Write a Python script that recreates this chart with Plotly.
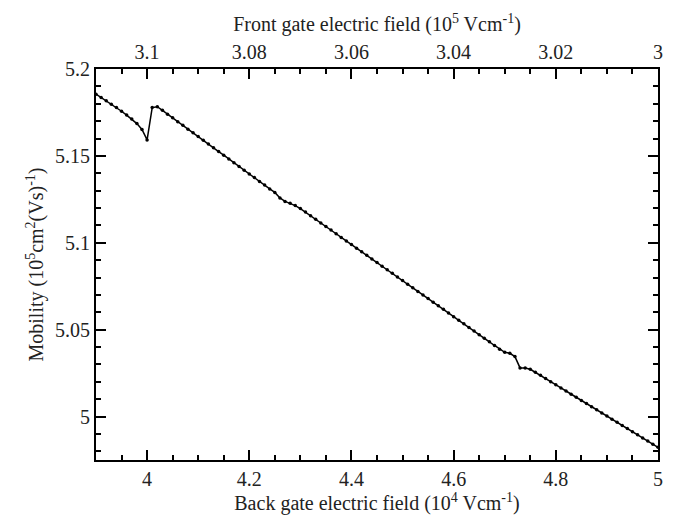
import plotly.graph_objects as go

# Back gate field (10^4 V/cm) and mobility (10^5 cm^2/Vs)
back_field = [
    3.90, 3.91, 3.92, 3.93, 3.94, 3.95, 3.96, 3.97, 3.98, 3.99,
    4.00, 4.01, 4.02, 4.03, 4.04, 4.05, 4.06, 4.07, 4.08, 4.09,
    4.10, 4.11, 4.12, 4.13, 4.14, 4.15, 4.16, 4.17, 4.18, 4.19,
    4.20, 4.21, 4.22, 4.23, 4.24, 4.25, 4.26, 4.27, 4.28, 4.29,
    4.30, 4.31, 4.32, 4.33, 4.34, 4.35, 4.36, 4.37, 4.38, 4.39,
    4.40, 4.41, 4.42, 4.43, 4.44, 4.45, 4.46, 4.47, 4.48, 4.49,
    4.50, 4.51, 4.52, 4.53, 4.54, 4.55, 4.56, 4.57, 4.58, 4.59,
    4.60, 4.61, 4.62, 4.63, 4.64, 4.65, 4.66, 4.67, 4.68, 4.69,
    4.70, 4.71, 4.72, 4.73, 4.74, 4.75, 4.76, 4.77, 4.78, 4.79,
    4.80, 4.81, 4.82, 4.83, 4.84, 4.85, 4.86, 4.87, 4.88, 4.89,
    4.90, 4.91, 4.92, 4.93, 4.94, 4.95, 4.96, 4.97, 4.98, 4.99,
    5.00,
]
mobility = [
    5.1855, 5.1836, 5.1817, 5.1797, 5.1778, 5.1757, 5.1735, 5.1712, 5.1686, 5.1652,
    5.1592, 5.1778, 5.1783, 5.1762, 5.1740, 5.1719, 5.1697, 5.1676, 5.1654, 5.1633,
    5.1611, 5.1590, 5.1568, 5.1547, 5.1525, 5.1504, 5.1482, 5.1461, 5.1439, 5.1418,
    5.1396, 5.1375, 5.1353, 5.1332, 5.1310, 5.1290, 5.1258, 5.1238, 5.1228, 5.1214,
    5.1197, 5.1177, 5.1156, 5.1135, 5.1114, 5.1094, 5.1073, 5.1052, 5.1031, 5.1011,
    5.0990, 5.0969, 5.0948, 5.0928, 5.0907, 5.0886, 5.0865, 5.0845, 5.0824, 5.0803,
    5.0783, 5.0762, 5.0741, 5.0720, 5.0700, 5.0679, 5.0658, 5.0637, 5.0617, 5.0596,
    5.0575, 5.0554, 5.0534, 5.0513, 5.0492, 5.0471, 5.0451, 5.0430, 5.0409, 5.0388,
    5.0370, 5.0364, 5.0345, 5.0280, 5.0279, 5.0272, 5.0255, 5.0237, 5.0219, 5.0201,
    5.0183, 5.0165, 5.0147, 5.0129, 5.0111, 5.0093, 5.0075, 5.0057, 5.0039, 5.0021,
    5.0003, 4.9985, 4.9967, 4.9949, 4.9931, 4.9913, 4.9895, 4.9877, 4.9859, 4.9841,
    4.9823,
]

# Tick positions and labels
back_ticks = [4.0, 4.2, 4.4, 4.6, 4.8, 5.0]
back_labels = ["4", "4.2", "4.4", "4.6", "4.8", "5"]
front_ticks = [3.1, 3.08, 3.06, 3.04, 3.02, 3.0]
front_labels = ["3.1", "3.08", "3.06", "3.04", "3.02", "3"]
mob_ticks = [5.0, 5.05, 5.1, 5.15, 5.2]
mob_labels = ["5", "5.05", "5.1", "5.15", "5.2"]

# Front gate field range on the top axis (10^5 V/cm), decreasing to the right
front_range = [3.11, 2.99999]

FONT = "Liberation Serif"
fig = go.Figure()

fig.add_trace(go.Scatter(
    x=back_field, y=mobility, mode="lines+markers",
    line=dict(color="black", width=1.5),
    marker=dict(color="black", size=3.5),
    showlegend=False, hoverinfo="skip",
))
# invisible trace so the top axis is drawn
fig.add_trace(go.Scatter(
    x=front_range, y=[mobility[0], mobility[-1]], xaxis="x2", mode="markers",
    marker=dict(opacity=0), showlegend=False, hoverinfo="skip",
))

tick_font = dict(family=FONT, size=20, color="#222")
title_font = dict(family=FONT, size=20, color="#222")
tick_style = dict(ticks="inside", ticklen=10, tickwidth=1.5, tickcolor="black")
minor_style = dict(ticks="inside", ticklen=5, tickwidth=1.5, tickcolor="black")
line_style = dict(showline=True, linecolor="black", linewidth=2, showgrid=False, zeroline=False)

fig.update_layout(
    width=675, height=520,
    margin=dict(l=96, r=16, t=69, b=57),
    paper_bgcolor="white", plot_bgcolor="white",
    xaxis=dict(
        range=[3.9, 5.00001], tickmode="array", tickvals=back_ticks, ticktext=back_labels,
        minor=dict(dtick=0.05, tick0=4.0, **minor_style),
        tickfont=tick_font, **tick_style, **line_style,
        title=dict(text="Back gate electric field (10<sup>4</sup> Vcm<sup>-1</sup>)", font=title_font, standoff=4),
    ),
    xaxis2=dict(
        overlaying="x", side="top", anchor="y",
        range=front_range, tickmode="array", tickvals=front_ticks, ticktext=front_labels,
        minor=dict(dtick=0.005, tick0=3.0, **minor_style),
        tickfont=tick_font, **tick_style, **line_style,
        title=dict(text="Front gate electric field (10<sup>5</sup> Vcm<sup>-1</sup>)", font=title_font, standoff=4),
    ),
    yaxis=dict(
        range=[4.975, 5.20001], tickmode="array", tickvals=mob_ticks, ticktext=mob_labels,
        minor=dict(dtick=0.01, tick0=5.0, **minor_style),
        mirror="ticks", tickfont=tick_font, **tick_style, **line_style,
        title=dict(text="Mobility (10<sup>5</sup>cm<sup>2</sup>(Vs)<sup>-1</sup>)", font=title_font, standoff=6),
    ),
)

fig.write_html("out.html")
